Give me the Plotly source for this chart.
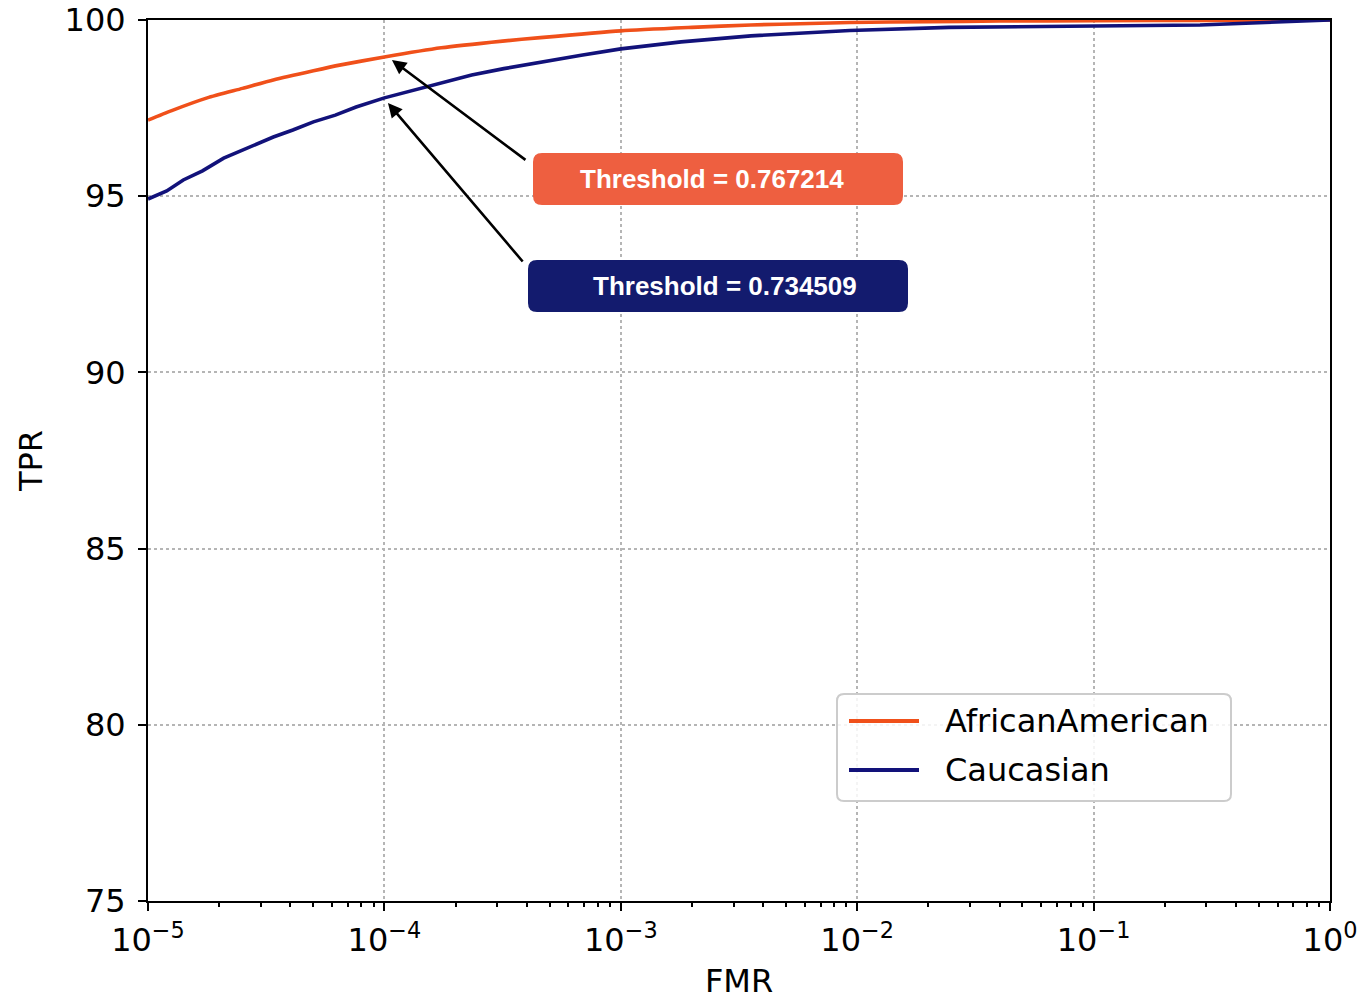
import plotly.graph_objects as go

# ROC-style curves: true positive rate vs. false match rate
series_names = ["AfricanAmerican", "Caucasian"]
series_colors = ["#F0501A", "#12127A"]

fmr_african = [1e-5, 1.26e-5, 1.78e-5, 2.51e-5, 3.39e-5, 5.01e-5, 6.46e-5, 1e-4,
               1.74e-4, 3.16e-4, 4.57e-4, 1e-3, 2.0e-3, 3.55e-3, 6.31e-3, 9.3e-3,
               2.0e-2, 4.0e-2, 1e-1, 3.16e-1, 1.0]
tpr_african = [97.16, 97.43, 97.79, 98.06, 98.30, 98.56, 98.72, 98.95,
               99.21, 99.40, 99.50, 99.69, 99.79, 99.86, 99.90, 99.93,
               99.95, 99.97, 99.98, 99.99, 100.0]

fmr_caucasian = [1e-5, 1.2e-5, 1.41e-5, 1.7e-5, 2.09e-5, 2.7e-5, 3.39e-5, 4.1e-5,
                 5.01e-5, 6.2e-5, 7.59e-5, 1e-4, 1.45e-4, 1.8e-4, 2.34e-4, 3.2e-4,
                 4.57e-4, 6.8e-4, 1e-3, 1.8e-3, 3.55e-3, 9.3e-3, 2.45e-2, 0.107,
                 0.282, 1.0]
tpr_caucasian = [94.92, 95.15, 95.46, 95.72, 96.08, 96.40, 96.68, 96.88,
                 97.11, 97.30, 97.53, 97.79, 98.07, 98.22, 98.44, 98.62,
                 98.81, 99.00, 99.18, 99.38, 99.55, 99.70, 99.79, 99.83,
                 99.86, 100.0]

thresholds = ["Threshold = 0.767214", "Threshold = 0.734509"]
box_colors = ["#EE5F40", "#131B6E"]

x_tickvals = [1e-5, 1e-4, 1e-3, 1e-2, 1e-1, 1.0]
x_ticktext = ["10<sup>\u22125</sup>", "10<sup>\u22124</sup>", "10<sup>\u22123</sup>",
              "10<sup>\u22122</sup>", "10<sup>\u22121</sup>", "10<sup>0</sup>"]
y_tickvals = [75, 80, 85, 90, 95, 100]

W, H = 1363, 1000
L, R, T, B = 148, 33, 20, 99
PW, PH = W - L - R, H - T - B
FONT = "DejaVu Sans"


def px(x):
    return (x - L) / PW


def py(y):
    return (H - B - y) / PH


def rounded_rect(x0, y0, x1, y1, r):
    # rounded rectangle path in paper coordinates from pixel corners
    rx, ry = r / PW, r / PH
    a, b, c, d = px(x0), py(y1), px(x1), py(y0)  # left, bottom, right, top
    return (f"M{a+rx},{b} L{c-rx},{b} Q{c},{b} {c},{b+ry} "
            f"L{c},{d-ry} Q{c},{d} {c-rx},{d} L{a+rx},{d} "
            f"Q{a},{d} {a},{d-ry} L{a},{b+ry} Q{a},{b} {a+rx},{b} Z")


fig = go.Figure()
fig.add_trace(go.Scatter(x=fmr_african, y=tpr_african, mode="lines",
                         name=series_names[0],
                         line=dict(color=series_colors[0], width=3.6, shape="spline", smoothing=0.6),
                         showlegend=False))
fig.add_trace(go.Scatter(x=fmr_caucasian, y=tpr_caucasian, mode="lines",
                         name=series_names[1],
                         line=dict(color=series_colors[1], width=3.6),
                         showlegend=False))

shapes = []
annotations = []

# threshold boxes and their arrows
boxes = [(533, 153, 903, 205, 712, -3.968, 98.865, 135, 101),
         (528, 260, 908, 312, 725, -3.985, 97.645, 136, 160)]
for i, (x0, y0, x1, y1, tx, hx, hy, ax, ay) in enumerate(boxes):
    shapes.append(dict(type="path", xref="paper", yref="paper",
                       path=rounded_rect(x0, y0, x1, y1, 9),
                       fillcolor=box_colors[i], line=dict(width=0), layer="above"))
    annotations.append(dict(xref="paper", yref="paper", x=px(tx), y=py((y0 + y1) / 2),
                            text=f"<b>{thresholds[i]}</b>", showarrow=False,
                            font=dict(family="Liberation Sans", size=26, color="white"),
                            xanchor="center", yanchor="middle"))
    annotations.append(dict(xref="x", yref="y", x=hx, y=hy, text="", showarrow=True,
                            ax=ax, ay=ay, arrowhead=2, arrowsize=1.1, arrowwidth=2.6,
                            arrowcolor="black"))

# legend box
shapes.append(dict(type="path", xref="paper", yref="paper",
                   path=rounded_rect(837, 694, 1231, 801, 7),
                   fillcolor="rgba(255,255,255,0.85)", line=dict(color="#CCCCCC", width=2),
                   layer="above"))
for i, yy in enumerate([721, 770]):
    shapes.append(dict(type="line", xref="paper", yref="paper",
                       x0=px(849), x1=px(919), y0=py(yy), y1=py(yy),
                       line=dict(color=series_colors[i], width=4), layer="above"))
    annotations.append(dict(xref="paper", yref="paper", x=px(943), y=py(yy),
                            text=series_names[i], showarrow=False,
                            font=dict(family=FONT, size=32, color="black"),
                            xanchor="left", yanchor="middle"))

axis_common = dict(showline=True, linecolor="black", linewidth=2, mirror=True,
                   ticks="outside", ticklen=8, tickwidth=2, tickcolor="black",
                   showgrid=True, gridcolor="#B5B5B5", griddash="dot", gridwidth=1.6,
                   zeroline=False, automargin=False,
                   tickfont=dict(family=FONT, size=32, color="black"),
                   title_font=dict(family=FONT, size=32, color="black"))

minor_vals = [m * 10 ** e for e in range(-5, 0) for m in range(2, 10)]

fig.update_layout(
    width=W, height=H,
    margin=dict(l=L, r=R, t=T, b=B),
    plot_bgcolor="white", paper_bgcolor="white",
    font=dict(family=FONT, size=32, color="black"),
    xaxis=dict(type="log", range=[-5, 0], tickmode="array", tickvals=x_tickvals,
               ticktext=x_ticktext, ticklabelstandoff=2,
               title=dict(text="FMR", standoff=18),
               minor=dict(ticks="outside", ticklen=4, tickwidth=1.5, tickcolor="black",
                          tickmode="array", tickvals=minor_vals, showgrid=False),
               **axis_common),
    yaxis=dict(range=[75, 100], tickmode="array", tickvals=y_tickvals,
               ticklabelstandoff=6,
               title=dict(text="TPR", standoff=12), **axis_common),
    shapes=shapes, annotations=annotations,
)

fig.write_html("out.html")
